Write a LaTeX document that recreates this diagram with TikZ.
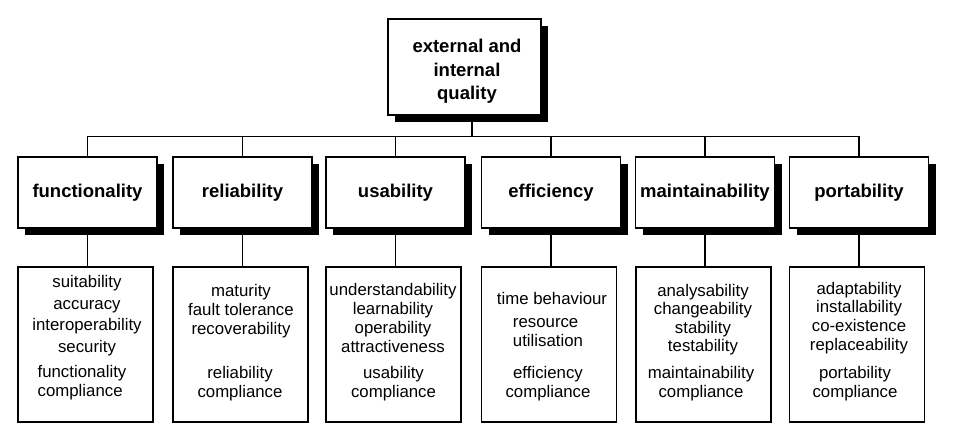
\documentclass[tikz,border=0pt]{standalone}
\usepackage{fontspec}
\setmainfont{Liberation Sans}
\usetikzlibrary{shadows}

\begin{document}
\begin{tikzpicture}[
        x=1pt, y=-1pt,
        box_style/.style={draw, line width=1.2pt, fill=white, inner sep=0pt},
        head_style/.style={box_style, align=center, font=\fontsize{18.5}{23.5}\selectfont\bfseries,
            drop shadow={fill=black, opacity=1, shadow xshift=7pt, shadow yshift=-7pt}},
        list_style/.style={box_style, minimum width=135, minimum height=155},
        text_style/.style={align=center, inner sep=0pt, font=\fontsize{16.8}{19}\selectfont},
        link_style/.style={line width=1.2pt}
    ]
        \useasboundingbox (0,0) rectangle (956,434);

        % Top box
        \node[head_style, minimum width=153, minimum height=96] (q) at (464.5,67) {};
        \node[align=center, inner sep=0pt, font=\fontsize{18.5}{23.5}\selectfont\bfseries] (qt) at (467,71.5) {external and\\internal\\quality};

        % Characteristics
        \node[head_style, minimum width=139, minimum height=71] (fun) at (87.5,192.5) {functionality};
        \node[head_style, minimum width=139, minimum height=71] (rel) at (242.5,192.5) {reliability};
        \node[head_style, minimum width=139, minimum height=71] (usa) at (395.5,192.5) {usability};
        \node[head_style, minimum width=139, minimum height=71] (eff) at (551,192.5) {efficiency};
        \node[head_style, minimum width=139, minimum height=71] (mai) at (705,192.5) {maintainability};
        \node[head_style, minimum width=139, minimum height=71] (por) at (859,192.5) {portability};

        % Sub-characteristic boxes
        \node[list_style] (funl) at (85.5,344.5) {};
        \node[list_style] (rell) at (240.5,344.5) {};
        \node[list_style] (usal) at (393.5,344.5) {};
        \node[list_style] (effl) at (549,344.5) {};
        \node[list_style] (mail) at (703.5,344.5) {};
        \node[list_style] (porl) at (857,344.5) {};

        % Connectors
        \draw[link_style] ([xshift=7.5pt]q.south) -- ++(0,21) coordinate (bus);
        \draw[link_style] (fun.north) |- (bus) -| (por.north);
        \draw[link_style] (rel.north) -- (rel.north |- bus);
        \draw[link_style] (usa.north) -- (usa.north |- bus);
        \draw[link_style] (eff.north) -- (eff.north |- bus);
        \draw[link_style] (mai.north) -- (mai.north |- bus);
        \draw[link_style] (fun.south) -- (fun.south |- funl.north);
        \draw[link_style] (rel.south) -- (rel.south |- rell.north);
        \draw[link_style] (usa.south) -- (usa.south |- usal.north);
        \draw[link_style] (eff.south) -- (eff.south |- effl.north);
        \draw[link_style] (mai.south) -- (mai.south |- mail.north);
        \draw[link_style] (por.south) -- (por.south |- porl.north);

        % Texts
        \node[text_style, font=\fontsize{16.8}{21.5}\selectfont] (funa) at (87,315.5) {suitability\\accuracy\\interoperability\\security};
        \node[text_style, align=left] (funb) at (82,382.5) {functionality\\compliance};
        \node[text_style] (rela) at (241,311) {maturity\\fault tolerance\\recoverability};
        \node[text_style] (relb) at (240,383.5) {reliability\\compliance};
        \node[text_style] (usaa) at (393,317.5) {understandability\\learnability\\operability\\attractiveness};
        \node[text_style] (usab) at (393.5,383.5) {usability\\compliance};
        \node[text_style] (effa) at (552,298) {time behaviour};
        \node[text_style, align=left] (effb) at (548,333) {resource\\utilisation};
        \node[text_style] (effc) at (548,383.5) {efficiency\\compliance};
        \node[text_style, font=\fontsize{16.8}{18.5}\selectfont] (maia) at (703,319.5) {analysability\\changeability\\stability\\testability};
        \node[text_style] (maib) at (701,383.5) {maintainability\\compliance};
        \node[text_style, font=\fontsize{16.8}{18.7}\selectfont] (pora) at (859,318) {adaptability\\installability\\co-existence\\replaceability};
        \node[text_style] (porb) at (855,383.5) {portability\\compliance};
    \end{tikzpicture}
\end{document}
